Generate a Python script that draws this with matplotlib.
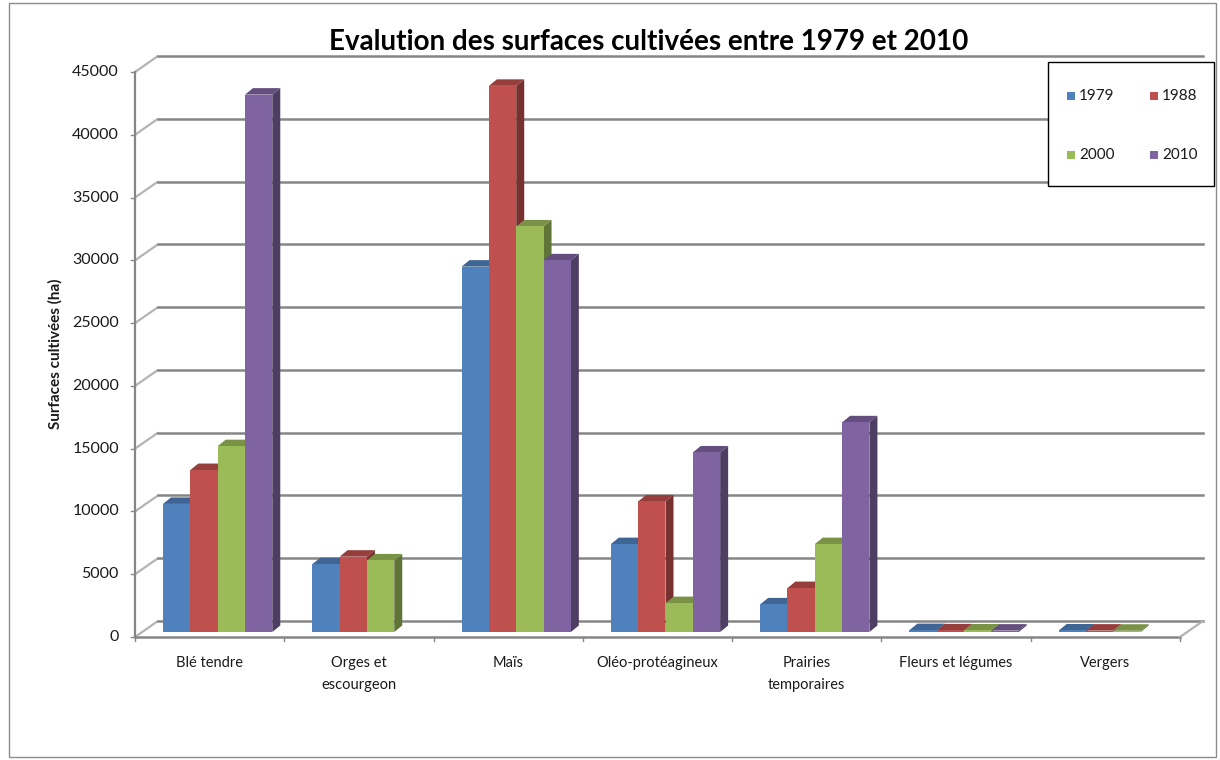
import numpy as np
import matplotlib
matplotlib.use("Agg")
import matplotlib.pyplot as plt
from matplotlib.patches import Rectangle, Polygon
from matplotlib.colors import to_rgb

# ---- data -------------------------------------------------------------
categories = ["Blé tendre", "Orges et\nescourgeon", "Maïs", "Oléo-protéagineux",
              "Prairies\ntemporaires", "Fleurs et légumes", "Vergers"]
years = ["1979", "1988", "2000", "2010"]
s1979 = [10200, 5400, 29100, 7000, 2200, 150, 120]
s1988 = [12900, 6000, 43500, 10400, 3500, 130, 110]
s2000 = [14800, 5700, 32300, 2300, 7000, 120, 100]
s2010 = [42800, np.nan, 29600, 14300, 16700, 110, np.nan]
series = [s1979, s1988, s2000, s2010]
yticks = [0, 5000, 10000, 15000, 20000, 25000, 30000, 35000, 40000, 45000]

colors = ["#4F81BD", "#C0504D", "#9BBB59", "#8064A2"]

# ---- figure geometry (pixels) -----------------------------------------
W, H = 1220, 760
fig = plt.figure(figsize=(W / 100, H / 100), dpi=100)
fig.patch.set_facecolor("white")

px_left, px_right = 135, 1180
px_bottom, px_top = 637, 72
ax = fig.add_axes([px_left / W, 1 - px_bottom / H,
                   (px_right - px_left) / W, (px_bottom - px_top) / H])
ncat = len(categories)
ymax = 45000
ax.set_xlim(0, ncat)
ax.set_ylim(0, ymax)
ax.axis("off")

xpx = (px_right - px_left) / ncat          # pixels per category
ypx = (px_bottom - px_top) / ymax          # pixels per unit


def dxu(p):
    return p / xpx


def dyu(p):
    return p / ypx


# depth of the back wall
DX, DY = dxu(23), dyu(16)

grid_col = "#868686"
side_col = "#B4B4B4"
font = "Lato"

# side-wall diagonals and back-wall gridlines
for t in yticks:
    ax.plot([0, DX], [t, t + DY], color=side_col, lw=1.6, clip_on=False,
            solid_capstyle="butt", zorder=1)
    ax.plot([DX, ncat + DX], [t + DY, t + DY], color=grid_col, lw=1.8,
            clip_on=False, zorder=1)
    ax.plot([0, -dxu(4)], [t, t], color=grid_col, lw=1.0, clip_on=False)
    ax.text(-dxu(16), t, f"{t}", ha="right", va="center", fontsize=11.5,
            family=font, color="#1a1a1a")

# floor edges
ax.plot([0, 0], [0, ymax], color=grid_col, lw=1.6, clip_on=False, zorder=1)
ax.plot([0, ncat], [0, 0], color=grid_col, lw=1.8, clip_on=False, zorder=1)
ax.plot([ncat, ncat + DX], [0, DY], color=side_col, lw=1.6, clip_on=False, zorder=1)
for i in range(ncat + 1):
    ax.plot([i, i], [0, -dyu(4)], color=grid_col, lw=1.0, clip_on=False)

# ---- 3D columns --------------------------------------------------------
nser = len(series)
group_w = 0.732
bw = group_w / nser
gap = (1 - group_w) / 2
off_x, off_y = dxu(8), dyu(5)      # front face sits partway into the depth
dep_x, dep_y = dxu(8), dyu(6.5)    # column depth


def shade(c, f):
    r, g, b = to_rgb(c)
    return (r * f, g * f, b * f)


z = 3
for i in range(ncat):
    for j, s in enumerate(series):
        v = s[i]
        if np.isnan(v):
            continue
        x0 = i + gap + j * bw + off_x
        y0 = off_y
        col = colors[j]
        side = Polygon([(x0 + bw, y0), (x0 + bw + dep_x, y0 + dep_y),
                        (x0 + bw + dep_x, y0 + v + dep_y), (x0 + bw, y0 + v)],
                       closed=True, facecolor=shade(col, 0.62), edgecolor="none",
                       clip_on=False, zorder=z)
        top = Polygon([(x0, y0 + v), (x0 + bw, y0 + v),
                       (x0 + bw + dep_x, y0 + v + dep_y), (x0 + dep_x, y0 + v + dep_y)],
                      closed=True, facecolor=shade(col, 0.78), edgecolor="none",
                      clip_on=False, zorder=z)
        front = Rectangle((x0, y0), bw, v, facecolor=col, edgecolor="none",
                          clip_on=False, zorder=z)
        ax.add_patch(side)
        ax.add_patch(top)
        ax.add_patch(front)
        z += 1

# category labels
for i, c in enumerate(categories):
    ax.text(i + 0.5, -dyu(19), c, ha="center", va="top", fontsize=10.5,
            family=font, color="#1a1a1a", linespacing=1.75)

# axis title
fig.text(55 / W, 1 - 354 / H, "Surfaces cultivées (ha)", rotation=90,
         ha="center", va="center", fontsize=11, fontweight="bold",
         family=font, color="#1a1a1a")

# chart title
fig.text(649 / W, 1 - 42 / H, "Evalution des surfaces cultivées entre 1979 et 2010",
         ha="center", va="center", fontsize=20, fontweight="bold",
         family=font, color="#000000")

# ---- legend -------------------------------------------------------------
lx0, ly0, lx1, ly1 = 1048, 62, 1214, 186
fig.add_artist(Rectangle((lx0 / W, 1 - ly1 / H), (lx1 - lx0) / W, (ly1 - ly0) / H,
                         transform=fig.transFigure, facecolor="white",
                         edgecolor="black", lw=1.0, zorder=10))
pos = [(1067, 96), (1150, 96), (1067, 155), (1150, 155)]
sq = 8
for (px, py), yr, col in zip(pos, years, colors):
    fig.add_artist(Rectangle((px / W, 1 - (py + sq / 2) / H), sq / W, sq / H,
                             transform=fig.transFigure, facecolor=col,
                             edgecolor="none", zorder=11))
    fig.text((px + sq + 4) / W, 1 - py / H, yr, ha="left", va="center",
             fontsize=11, family=font, color="#1a1a1a", zorder=11)

# chart-area frame
fig.add_artist(Rectangle((9 / W, 1 - 757 / H), (1216 - 9) / W, (757 - 3) / H,
                         transform=fig.transFigure, facecolor="none",
                         edgecolor="#8c8c8c", lw=1.0, zorder=0))

fig.savefig("out.png", dpi=100)
